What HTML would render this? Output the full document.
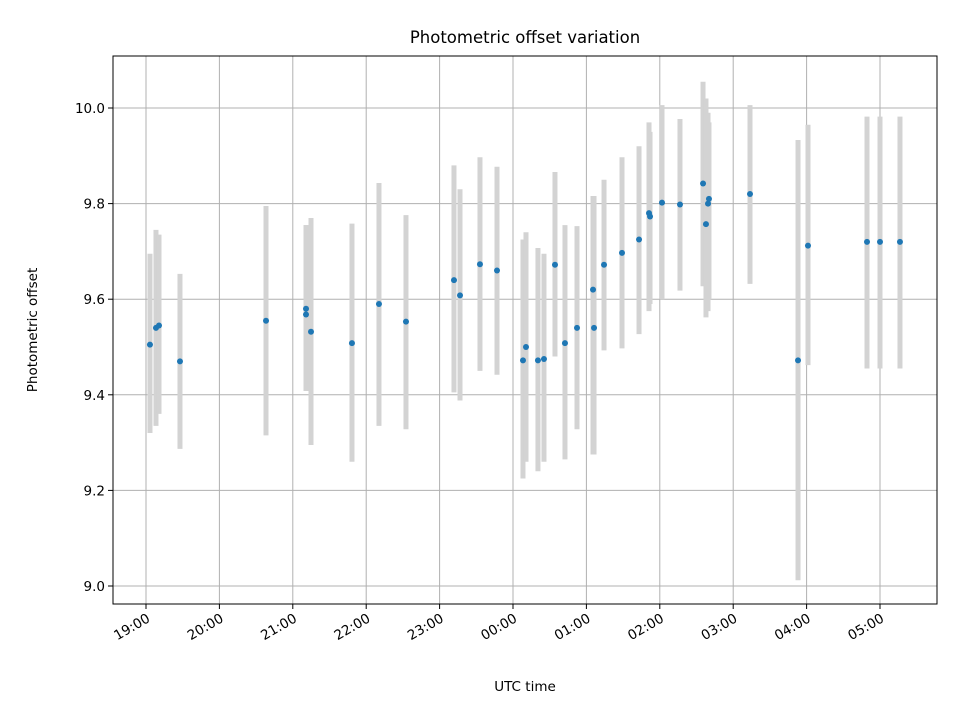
<!DOCTYPE html>
<html><head><meta charset="utf-8"><style>
body{margin:0;background:#fff;}
svg text{font-family:"DejaVu Sans","Liberation Sans",sans-serif;fill:#000;}
</style></head><body>
<svg id="chart" width="960" height="720" xmlns="http://www.w3.org/2000/svg">
<rect width="960" height="720" fill="#fff"/>
<g id="grid"></g><g id="bars"></g><g id="dots"></g><g id="axes"></g>
<text x="525" y="43" font-size="16.5" text-anchor="middle">Photometric offset variation</text>
<text x="525" y="691" font-size="13.5" text-anchor="middle">UTC time</text>
<text transform="translate(37,330) rotate(-90)" font-size="13.5" text-anchor="middle">Photometric offset</text>
</svg>
<script>
const hours=[0.054,0.136,0.177,0.463,1.635,2.18,2.18,2.248,2.806,3.174,3.542,4.196,4.278,4.55,4.782,5.136,5.177,5.34,5.422,5.572,5.708,5.872,6.09,6.104,6.24,6.485,6.717,6.853,6.867,7.03,7.275,7.589,7.629,7.657,7.67,8.229,8.883,9.019,9.823,10.0,10.272];
const values=[9.505,9.54,9.545,9.47,9.555,9.58,9.568,9.532,9.508,9.59,9.553,9.64,9.608,9.673,9.66,9.472,9.5,9.472,9.475,9.672,9.508,9.54,9.62,9.54,9.672,9.697,9.725,9.78,9.773,9.802,9.798,9.842,9.757,9.8,9.81,9.82,9.472,9.712,9.72,9.72,9.72];
const lows=[9.32,9.335,9.36,9.287,9.315,9.408,9.408,9.295,9.26,9.335,9.328,9.405,9.388,9.45,9.442,9.225,9.26,9.24,9.26,9.48,9.265,9.328,9.275,9.275,9.493,9.497,9.527,9.575,9.59,9.6,9.618,9.627,9.562,9.575,9.6,9.632,9.012,9.462,9.455,9.455,9.455];
const highs=[9.695,9.745,9.735,9.653,9.795,9.755,9.755,9.77,9.758,9.843,9.776,9.88,9.83,9.897,9.877,9.725,9.74,9.707,9.695,9.866,9.755,9.753,9.816,9.816,9.85,9.897,9.92,9.97,9.95,10.006,9.977,10.055,10.02,9.99,9.97,10.006,9.933,9.965,9.982,9.982,9.982];
const xTickLabels=["19:00","20:00","21:00","22:00","23:00","00:00","01:00","02:00","03:00","04:00","05:00"];
const yTickValues=[9.0,9.2,9.4,9.6,9.8,10.0];
const L=113,R=937,T=56,B=604;
function xs(h){return 146+h*73.4;}
function ys(v){return 108+(10-v)*478;}
const NS="http://www.w3.org/2000/svg";
function mk(tag,attrs,parent){const e=document.createElementNS(NS,tag);for(const k in attrs)e.setAttribute(k,attrs[k]);parent.appendChild(e);return e;}
const grid=document.getElementById('grid'),bars=document.getElementById('bars'),dots=document.getElementById('dots'),axes=document.getElementById('axes');
xTickLabels.forEach((lab,i)=>{
  const x=xs(i);
  const g=mk('line',{x1:x,x2:x,y1:T,y2:B,stroke:'#b0b0b0','stroke-width':1},grid);
  
  
  const t=mk('line',{x1:x,x2:x,y1:B,y2:B+5,stroke:'#000','stroke-width':1},axes);
  
  
  const tx=mk('text',{transform:`translate(${x+5},${B+17}) rotate(-30)`,'font-size':13.5,'text-anchor':'end'},axes);
  tx.textContent=lab;
  
  
});
yTickValues.forEach(v=>{
  const y=ys(v);
  const g=mk('line',{x1:L,x2:R,y1:y,y2:y,stroke:'#b0b0b0','stroke-width':1},grid);
  
  
  const t=mk('line',{x1:L-5,x2:L,y1:y,y2:y,stroke:'#000','stroke-width':1},axes);
  
  
  const tx=mk('text',{x:L-8,y:y+5,'font-size':13.5,'text-anchor':'end'},axes);
  tx.textContent=v.toFixed(1);
  
  
});
hours.forEach((h,i)=>{
  const x=xs(h);
  const b=mk('line',{x1:x,x2:x,y1:ys(highs[i]),y2:ys(lows[i]),stroke:'#d3d3d3','stroke-width':5},bars);
  
  
  const d=mk('circle',{cx:x,cy:ys(values[i]),r:3,fill:'#1f77b4'},dots);
  
  
});
const fr=mk('rect',{x:L,y:T,width:R-L,height:B-T,fill:'none',stroke:'#000','stroke-width':1},axes);


</script>
</body></html>
